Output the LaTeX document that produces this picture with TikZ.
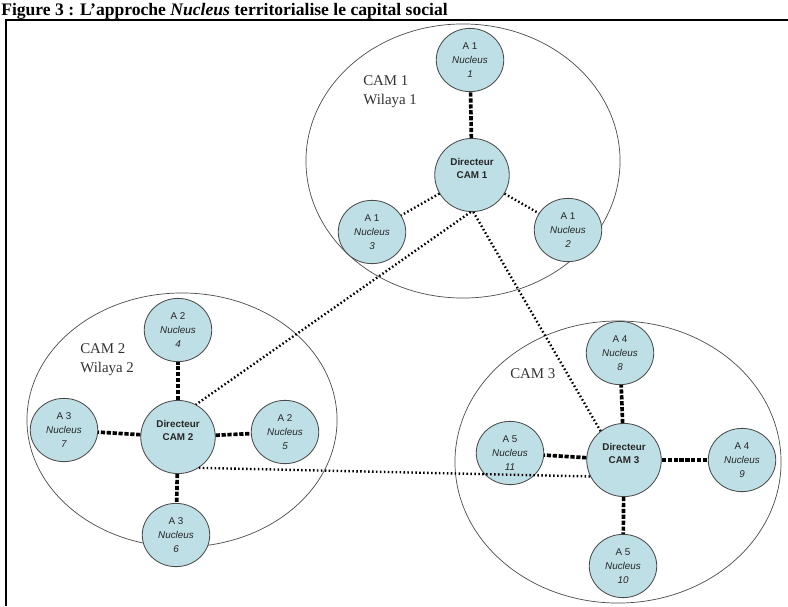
\documentclass[tikz,border=0pt]{standalone}
\usepackage{fontspec}
\setmainfont{Liberation Serif}
\setsansfont{Liberation Sans}
\usetikzlibrary{shapes.geometric}
\definecolor{nucfill}{RGB}{190,223,229}
\definecolor{inkgrey}{RGB}{75,75,75}
\tikzset{
  cam/.style={ellipse,draw=inkgrey,line width=0.5pt,inner sep=0pt},
  nuc/.style={ellipse,draw=inkgrey,line width=0.6pt,fill=nucfill,inner sep=0pt,
    minimum width=48pt,minimum height=45pt,align=center,text=black!85,
    font=\sffamily\fontsize{7}{10}\selectfont},
  dir/.style={nuc,minimum width=53pt,minimum height=52pt,
    font=\sffamily\bfseries\fontsize{7}{9.5}\selectfont},
  strong/.style={line width=2.6pt,dash pattern=on 3pt off 1.2pt},
  link/.style={line width=1.7pt,dash pattern=on 1.1pt off 1.7pt},
  lbl/.style={anchor=north west,inner sep=0pt,align=left,
    font=\fontsize{10.6}{14}\selectfont,text=black!80}
}
\begin{document}
\begin{tikzpicture}[x=0.025cm,y=-0.025cm]
      \useasboundingbox (0,0) rectangle (788,606);
      \node[anchor=base west,inner sep=0pt,font=\bfseries\fontsize{12.5}{14}\selectfont]
        (title) at (1,15) {Figure 3 : L'approche \textit{Nucleus} territorialise le capital social};
      \draw[line width=1.5pt] (6,606) -- (6,20) -- (790,20);
      % the three CAM
      \draw
        (463,161) node[cam,minimum width=7.85cm,minimum height=6.85cm] (cam1){}
        (182,420) node[cam,minimum width=7.75cm,minimum height=6.35cm] (cam2){}
        (618,462) node[cam,minimum width=8.15cm,minimum height=7.05cm] (cam3){};
      \node[lbl] (lab1) at (363,75) {CAM 1\\Wilaya 1};
      \node[lbl] (lab2) at (80,343) {CAM 2\\Wilaya 2};
      \node[lbl] (lab3) at (510,368) {CAM 3};
      % directeurs
      \draw
        (472,175) node[dir] (d1){Directeur\\CAM 1\\\mbox{}}
        (178,437) node[dir] (d2){Directeur\\CAM 2\\\mbox{}}
        (624,460) node[dir] (d3){Directeur\\CAM 3\\\mbox{}};
      % nucleus
      \draw
        (470,60) node[nuc] (n1){A 1\\\textit{Nucleus}\\\textit{1}}
        (568,230) node[nuc] (n2){A 1\\\textit{Nucleus}\\\textit{2}}
        (372,232) node[nuc] (n3){A 1\\\textit{Nucleus}\\\textit{3}}
        (178,330) node[nuc] (n4){A 2\\\textit{Nucleus}\\\textit{4}}
        (285,432) node[nuc] (n5){A 2\\\textit{Nucleus}\\\textit{5}}
        (176,535) node[nuc] (n6){A 3\\\textit{Nucleus}\\\textit{6}}
        (64,430) node[nuc] (n7){A 3\\\textit{Nucleus}\\\textit{7}}
        (620,353) node[nuc] (n8){A 4\\\textit{Nucleus}\\\textit{8}}
        (742,460) node[nuc] (n9){A 4\\\textit{Nucleus}\\\textit{9}}
        (623,566) node[nuc] (n10){A 5\\\textit{Nucleus}\\\textit{10}}
        (510,453) node[nuc] (n11){A 5\\\textit{Nucleus}\\\textit{11}};
      \begin{scope}[strong]
        \draw (d1) to (n1);
        \draw (d2) to (n4);
        \draw (d2) to (n5);
        \draw (d2) to (n6);
        \draw (d2) to (n7);
        \draw (d3) to (n8);
        \draw (d3) to (n9);
        \draw (d3) to (n10);
        \draw (d3) to (n11);
      \end{scope}
      \begin{scope}[link]
        \draw (d1) to (n2);
        \draw (d1) to (n3);
        \draw (d1.268) to (d2.61);
        \draw (d1.272) to (d3.129);
        \draw (d2.304) to (d3.206);
      \end{scope}
    \end{tikzpicture}
\end{document}
